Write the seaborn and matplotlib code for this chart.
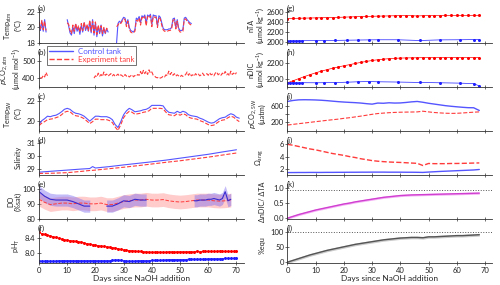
import numpy as np
import pandas as pd
import matplotlib
matplotlib.use('Agg')
import matplotlib.pyplot as plt
from matplotlib.lines import Line2D
import seaborn as sns

# ---- data ----
# (a) air temperature, three logging segments
a_days_1 = np.arange(0, 3, 0.5)
a_days_2 = np.arange(10, 25, 0.5)
a_days_3 = np.arange(27.5, 54.5, 0.5)
a_ctrl_1 = [20.9, 19.6, 20.8, 19.5, 21.0, 19.4]
a_exp_1 = [20.7, 19.8, 20.9, 19.7, 20.8, 19.6]
a_ctrl_2 = [21.0, 20.2, 19.3, 19.0, 20.1, 19.2, 20.4, 19.5, 20.0, 19.1,
            20.3, 19.4, 20.6, 19.6, 20.2, 19.5, 20.8, 19.3, 21.0, 19.0,
            20.6, 18.8, 20.1, 19.2, 20.3, 18.9, 19.9, 19.2, 19.8, 19.4]
a_exp_2 = [20.6, 20.4, 19.6, 19.2, 20.3, 19.5, 20.5, 19.7, 20.2, 19.4,
           20.5, 19.6, 20.7, 19.8, 20.4, 19.6, 20.9, 19.5, 20.8, 19.3,
           20.7, 19.1, 20.3, 19.4, 20.2, 19.2, 20.0, 19.3, 19.9, 19.5]
a_ctrl_3 = [18.0, 20.5, 20.8, 20.6, 21.0, 21.3, 21.2, 20.4, 21.0, 20.0,
            19.6, 19.5, 19.4, 19.7, 21.2, 21.0, 21.4, 20.6, 21.5, 21.3,
            21.6, 20.5, 21.6, 21.4, 21.7, 20.4, 21.6, 21.5, 21.5, 20.2,
            21.5, 21.3, 20.6, 19.9, 19.7, 19.7, 19.7, 19.8, 19.8, 20.0,
            21.1, 21.2, 20.0, 21.0, 19.9, 19.6, 19.6, 19.7, 21.2, 21.3,
            21.0, 20.8, 20.6, 20.5]
a_exp_3 = [20.1, 20.3, 20.6, 20.5, 20.8, 21.1, 21.0, 20.1, 20.8, 19.8,
           19.4, 19.3, 19.3, 19.5, 20.9, 20.8, 21.2, 20.3, 21.3, 21.1,
           21.4, 20.2, 21.4, 21.2, 21.5, 20.1, 21.4, 21.3, 21.3, 20.0,
           21.3, 21.1, 20.3, 19.7, 19.5, 19.5, 19.5, 19.6, 19.6, 19.8,
           20.9, 21.0, 19.8, 20.8, 19.7, 19.4, 19.4, 19.5, 21.0, 21.1,
           20.8, 20.6, 20.4, 20.3]

# (b) atmospheric pCO2, experiment tank only
b_days_1 = np.arange(0.5, 3.5, 0.5)
b_days_2 = np.arange(19.5, 70.5, 0.5)
b_exp_1 = [402, 398, 415, 405, 432, 412]
b_exp_2 = [398, 412, 405, 428, 410, 420, 408, 435, 415, 422,
           410, 418, 425, 412, 420, 408, 415, 422, 410, 418,
           412, 405, 420, 410, 415, 405, 412, 418, 406, 414,
           410, 420, 415, 438, 418, 445, 425, 440, 420, 448,
           428, 435, 415, 410, 402, 400, 405, 398, 402, 410,
           405, 418, 412, 440, 420, 432, 415, 425, 410, 418,
           412, 405, 415, 408, 412, 420, 435, 415, 428, 412,
           418, 410, 425, 415, 422, 412, 418, 428, 414, 420,
           425, 415, 430, 418, 422, 412, 428, 435, 418, 425,
           415, 428, 420, 438, 418, 425, 412, 440, 420, 428,
           418, 432]

# (c) seawater temperature
c_days = np.arange(0, 72)
c_ctrl = [19.6, 20.0, 20.2, 20.45, 20.4, 20.5, 20.55, 20.7, 20.9, 21.15,
          21.25, 21.15, 20.9, 20.75, 20.7, 20.6, 20.45, 20.2, 19.95, 20.2,
          20.45, 20.45, 20.4, 20.4, 20.4, 20.3, 20.1, 19.6, 19.3, 19.9,
          20.6, 21.0, 21.25, 21.1, 20.9, 20.95, 21.0, 21.1, 21.15, 21.3,
          21.55, 21.55, 21.55, 21.55, 21.5, 21.1, 20.85, 20.8, 20.75, 20.95,
          20.8, 20.95, 20.85, 20.6, 20.5, 20.45, 20.4, 20.25, 20.15, 20.0,
          19.85, 19.75, 19.8, 20.0, 20.2, 20.3, 20.35, 20.55, 20.7, 20.6,
          20.35, 20.25]
c_exp = [19.5, 19.75, 19.9, 20.1, 20.15, 20.2, 20.3, 20.4, 20.6, 20.85,
         20.95, 20.9, 20.65, 20.5, 20.45, 20.35, 20.2, 19.95, 19.7, 19.9,
         20.15, 20.15, 20.1, 20.1, 20.1, 20.0, 19.8, 19.35, 19.0, 19.6,
         20.3, 20.7, 20.95, 20.85, 20.65, 20.7, 20.75, 20.85, 20.9, 21.0,
         21.25, 21.25, 21.25, 21.25, 21.2, 20.85, 20.6, 20.55, 20.5, 20.7,
         20.55, 20.7, 20.6, 20.35, 20.25, 20.2, 20.15, 20.0, 19.9, 19.75,
         19.6, 19.5, 19.55, 19.75, 19.95, 20.05, 20.1, 20.3, 20.45, 20.35,
         20.1, 19.9]

# (d) salinity
d_days = [0, 5, 10, 15, 18, 19, 20, 25, 30, 35, 40, 45, 50, 55, 60, 65, 70]
d_ctrl = [28.72, 28.8, 28.88, 28.96, 29.0, 29.15, 29.04, 29.15, 29.28, 29.4,
          29.52, 29.65, 29.8, 29.95, 30.1, 30.28, 30.45]
d_exp = [28.62, 28.64, 28.68, 28.78, 28.85, 28.86, 28.88, 28.99, 29.1, 29.22,
         29.35, 29.48, 29.6, 29.74, 29.88, 30.04, 30.2]

# (e) dissolved oxygen with spread
e_days_exp = np.arange(0, 70, 2)
e_exp = [93, 91, 89.5, 90, 90.5, 90.5, 90, 90.5, 90.5, 90,
         90, 90.5, 89.5, 89.5, 90.5, 91.5, 92, 92.5, 92.5, 93,
         92.5, 92.5, 92.8, 92, 91.5, 91.2, 91.5, 92, 92.5, 92.5,
         92.5, 92, 91.8, 92, 92.5]
e_exp_sd = 4.5
e_days_c1 = np.arange(0, 20, 2)
e_ctrl_1 = [98, 95, 93, 92.5, 92.5, 92.5, 91.5, 90, 88.5, 88.5]
e_days_c2 = np.arange(24, 40, 2)
e_ctrl_2 = [88.5, 88.5, 90, 92, 91.5, 93, 92.5, 92.5]
e_days_c3 = np.arange(55, 69, 1)
e_ctrl_3 = [92, 92, 92.5, 92.5, 92.5, 93, 93, 93.5, 93, 92.5, 93.5, 98, 92, 93]
e_ctrl_sd = 4

# (f) pH total scale
f_days = np.arange(0, 71)
f_exp = [8.54, 8.51, 8.49, 8.47, 8.45, 8.43, 8.41, 8.39, 8.37, 8.35,
         8.34, 8.33, 8.32, 8.31, 8.30, 8.29, 8.27, 8.25, 8.24, 8.22,
         8.21, 8.20, 8.19, 8.18, 8.17, 8.16, 8.15, 8.14, 8.12, 8.10,
         8.09, 8.08, 8.07, 8.07, 8.06, 8.05, 8.05, 8.04, 8.04, 8.03,
         8.03, 8.03, 8.03, 8.03, 8.03, 8.03, 8.04, 8.04, 8.03, 8.04,
         8.04, 8.04, 8.04, 8.04, 8.04, 8.04, 8.05, 8.04, 8.05, 8.05,
         8.05, 8.05, 8.05, 8.05, 8.06, 8.05, 8.05, 8.05, 8.05, 8.05, 8.05]
f_ctrl = [7.81, 7.80, 7.80, 7.80, 7.80, 7.80, 7.80, 7.81, 7.81, 7.81,
          7.81, 7.81, 7.81, 7.81, 7.81, 7.81, 7.81, 7.81, 7.81, 7.81,
          7.81, 7.81, 7.81, 7.81, 7.81, 7.81, 7.82, 7.83, 7.83, 7.82,
          7.81, 7.80, 7.80, 7.80, 7.80, 7.81, 7.81, 7.81, 7.81, 7.81,
          7.82, 7.82, 7.82, 7.82, 7.83, 7.83, 7.84, 7.84, 7.84, 7.84,
          7.84, 7.84, 7.84, 7.85, 7.85, 7.85, 7.85, 7.85, 7.85, 7.85,
          7.86, 7.86, 7.86, 7.86, 7.86, 7.86, 7.87, 7.87, 7.87, 7.87, 7.87]

# right column: carbonate chemistry
r_days = np.arange(0, 70, 2)
r_days_ctrl = [0, 1, 2, 3, 4, 5, 10, 13, 17, 21, 25, 29, 32, 39, 47, 54, 61, 66, 68]
g_exp = [2468, 2474, 2477, 2480, 2482, 2485, 2487, 2490, 2492, 2495,
         2499, 2503, 2507, 2510, 2513, 2516, 2519, 2521, 2524, 2527,
         2529, 2530, 2529, 2522, 2528, 2530, 2531, 2531, 2532, 2533,
         2533, 2534, 2534, 2535, 2535]
g_ctrl = [2030, 2031, 2032, 2031, 2033, 2034, 2035, 2037, 2040, 2044,
          2047, 2050, 2052, 2052, 2038, 2050, 2052, 2056, 2054]
h_exp = [1960, 1985, 2010, 2035, 2058, 2080, 2100, 2118, 2135, 2150,
         2165, 2178, 2192, 2205, 2217, 2228, 2237, 2244, 2250, 2254,
         2257, 2259, 2260, 2261, 2262, 2262, 2262, 2263, 2263, 2263,
         2263, 2263, 2263, 2263, 2263]
h_ctrl = [1962, 1960, 1961, 1960, 1960, 1961, 1960, 1961, 1963, 1967,
          1972, 1975, 1972, 1969, 1964, 1960, 1956, 1950, 1922]
i_ctrl = [705, 730, 745, 748, 746, 742, 735, 725, 712, 700,
          690, 682, 675, 665, 650, 638, 665, 660, 672, 665,
          668, 680, 695, 705, 685, 660, 640, 620, 600, 585,
          572, 560, 550, 548, 480]
i_exp = [118, 135, 152, 168, 185, 202, 218, 235, 250, 265,
         285, 300, 320, 340, 362, 385, 404, 415, 425, 432,
         437, 440, 442, 445, 462, 445, 430, 420, 412, 408,
         410, 418, 428, 438, 445]
j_exp = [6.0, 5.85, 5.65, 5.45, 5.25, 5.1, 4.9, 4.7, 4.5, 4.35,
         4.2, 4.0, 3.85, 3.65, 3.5, 3.35, 3.25, 3.18, 3.12, 3.08,
         3.05, 3.0, 2.95, 2.9, 2.55, 2.88, 2.85, 2.85, 2.85, 2.88,
         2.88, 2.9, 2.92, 2.95, 2.97]
j_ctrl = [1.40, 1.40, 1.41, 1.41, 1.42, 1.42, 1.42, 1.43, 1.43, 1.44,
          1.44, 1.45, 1.45, 1.46, 1.46, 1.47, 1.47, 1.47, 1.46, 1.46,
          1.46, 1.45, 1.45, 1.44, 1.42, 1.48, 1.53, 1.58, 1.62, 1.66,
          1.70, 1.74, 1.78, 1.82, 1.90]
k_ratio = [0.0, 0.06, 0.12, 0.17, 0.22, 0.27, 0.31, 0.35, 0.39, 0.43,
           0.47, 0.50, 0.54, 0.57, 0.60, 0.63, 0.66, 0.69, 0.71, 0.73,
           0.75, 0.76, 0.77, 0.775, 0.78, 0.785, 0.79, 0.795, 0.80, 0.805,
           0.81, 0.815, 0.82, 0.825, 0.83]
k_sd = 0.035
k_ref = 0.92
l_equ = [0, 6, 12, 18, 24, 29, 34, 39, 43, 47,
         51, 55, 59, 62, 65, 68, 71, 74, 76, 78,
         80, 81, 82, 82, 81, 84, 84, 85, 86, 87,
         88, 88, 89, 90, 91]
l_sd = 4.5
l_ref = 100

BLUE = '#5555ff'
RED = '#ff3b3b'
BLUE_M = '#1f1fff'
RED_M = '#ff0000'

sns.set_theme(style='ticks')
plt.rcParams['font.family'] = ['Lato', 'DejaVu Sans']
plt.rcParams['mathtext.default'] = 'regular'
plt.rcParams['axes.linewidth'] = 0.6
plt.rcParams['axes.edgecolor'] = '#333333'


def segs(ax, parts, color, ls='-', lw=0.8):
    frames = [pd.DataFrame({'day': d, 'val': v, 'seg': i}) for i, (d, v) in enumerate(parts)]
    df = pd.concat(frames, ignore_index=True)
    sns.lineplot(data=df, x='day', y='val', units='seg', estimator=None, ax=ax,
                 color=color, linestyle=ls, lw=lw)


def line(ax, x, y, color, ls='-', lw=0.8, marker=None, ms=2.2):
    df = pd.DataFrame({'day': x, 'val': y})
    kw = {}
    if marker:
        kw = dict(marker=marker, markersize=ms, markeredgewidth=0)
    sns.lineplot(data=df, x='day', y='val', ax=ax, color=color, linestyle=ls,
                 lw=lw, **kw)


def band(ax, x, y, sd, color, alpha):
    y = np.asarray(y, dtype=float)
    ax.fill_between(x, y - sd, y + sd, color=color, alpha=alpha, lw=0)


fig = plt.figure(figsize=(5, 2.85), dpi=100)
gs = fig.add_gridspec(6, 2, left=0.078, right=0.984, top=0.972, bottom=0.077,
                      hspace=0.26, wspace=0.215)
axL = [fig.add_subplot(gs[i, 0]) for i in range(6)]
axR = [fig.add_subplot(gs[i, 1]) for i in range(6)]

# (a)
ax = axL[0]
segs(ax, [(a_days_1, a_ctrl_1), (a_days_2, a_ctrl_2), (a_days_3, a_ctrl_3)], BLUE)
segs(ax, [(a_days_1, a_exp_1), (a_days_2, a_exp_2), (a_days_3, a_exp_3)], RED, ls='--')
ax.set_ylim(18, 22.5)
ax.set_yticks([18, 20, 22])

# (b)
ax = axL[1]
segs(ax, [(b_days_1, b_exp_1), (b_days_2, b_exp_2)], RED, ls='--')
ax.set_ylim(345, 555)
ax.set_yticks([400, 500])
leg = ax.legend(handles=[Line2D([], [], color=BLUE, lw=1),
                         Line2D([], [], color=RED, lw=1, ls='--')],
                labels=['Control tank', 'Experiment tank'],
                loc='upper left', bbox_to_anchor=(0.04, 1.17), fontsize=5.7,
                frameon=True, fancybox=False, edgecolor='#333333',
                labelcolor=[BLUE, RED], handlelength=3.0, borderpad=0.25,
                labelspacing=0.15, handletextpad=0.6, borderaxespad=0)
leg.get_frame().set_linewidth(0.6)

# (c)
ax = axL[2]
line(ax, c_days, c_ctrl, BLUE)
line(ax, c_days, c_exp, RED, ls='--')
ax.set_ylim(18.95, 22.5)
ax.set_yticks([20, 22])

# (d)
ax = axL[3]
line(ax, d_days, d_ctrl, BLUE)
line(ax, d_days, d_exp, RED, ls='--')
ax.set_ylim(28.5, 31.2)
ax.set_yticks([29, 30, 31])

# (e)
ax = axL[4]
band(ax, e_days_exp, e_exp, e_exp_sd, '#ff8c8c', 0.45)
for dd, vv in [(e_days_c1, e_ctrl_1), (e_days_c2, e_ctrl_2), (e_days_c3, e_ctrl_3)]:
    band(ax, dd, vv, e_ctrl_sd, '#7a6cf0', 0.45)
line(ax, e_days_exp, e_exp, RED, ls='--', lw=0.7)
segs(ax, [(e_days_c1, e_ctrl_1), (e_days_c2, e_ctrl_2), (e_days_c3, e_ctrl_3)], '#3a2ad0', lw=0.8)
ax.set_ylim(80, 103)
ax.set_yticks([80, 90, 100])

# (f)
ax = axL[5]
line(ax, f_days, f_exp, RED_M, lw=0.6, marker='o')
line(ax, f_days, f_ctrl, BLUE_M, lw=0.6, marker='o')
ax.set_ylim(7.75, 8.65)
ax.set_yticks([8.0, 8.4])
ax.set_yticklabels(['8.0', '8.4'])

# (g)
ax = axR[0]
line(ax, r_days, g_exp, RED_M, lw=0.5, marker='o', ms=2.2)
line(ax, r_days_ctrl, g_ctrl, BLUE_M, lw=0.5, marker='o', ms=2.2)
ax.set_ylim(1990, 2680)
ax.set_yticks([2000, 2200, 2400, 2600])

# (h)
ax = axR[1]
line(ax, r_days, h_exp, RED_M, lw=0.5, marker='o', ms=2.2)
line(ax, r_days_ctrl, h_ctrl, BLUE_M, lw=0.5, marker='o', ms=2.2)
ax.set_ylim(1910, 2330)
ax.set_yticks([2000, 2200])

# (i)
ax = axR[2]
line(ax, r_days, i_ctrl, BLUE, lw=1.0)
line(ax, r_days, i_exp, RED, ls='--', lw=0.8)
ax.set_ylim(-30, 840)
ax.set_yticks([200, 400, 600])
ax.set_yticklabels(['200', '', '600'])

# (j)
ax = axR[3]
line(ax, r_days, j_exp, RED, ls='--', lw=1.0)
line(ax, r_days, j_ctrl, BLUE, lw=1.0)
ax.set_ylim(1, 6.7)
ax.set_yticks([2, 4, 6])

# (k)
ax = axR[4]
band(ax, r_days, k_ratio, k_sd, '#f08cf0', 0.7)
line(ax, r_days, k_ratio, '#d040d0', lw=1.0)
ax.axhline(k_ref, color='#555555', ls=':', lw=0.7)
ax.set_ylim(-0.03, 1.13)
ax.set_yticks([0.0, 0.5, 1.0])
ax.set_yticklabels(['0.0', '0.5', '1.0'])

# (l)
ax = axR[5]
band(ax, r_days, l_equ, l_sd, '#bdbdbd', 0.8)
line(ax, r_days, l_equ, '#555555', lw=1.0)
ax.axhline(l_ref, color='#555555', ls=':', lw=0.7)
ax.set_ylim(-3, 113)
ax.set_yticks([0, 50, 100])

ylabels_L = ['Temp$_{atm}$\n(°C)', '$\\it{p}$CO$_{2,atm}$\n(µmol mol$^{-1}$)',
             'Temp$_{SW}$\n(°C)', 'Salinity', 'DO\n(%sat)', 'pH$_T$']
ylabels_R = ['nTA\n(µmol kg$^{-1}$)', 'nDIC\n(µmol kg$^{-1}$)',
             '$\\it{p}$CO$_{2,SW}$\n(µatm)', '$\\Omega_{arag}$',
             'ΔnDIC/ ΔTA', '%equ']
letters = 'abcdefghijkl'

for col, (axes, labs, lx) in enumerate([(axL, ylabels_L, -0.085), (axR, ylabels_R, -0.105)]):
    for i, ax in enumerate(axes):
        ax.set_xlim(0, 72.5)
        ax.set_xticks(range(0, 80, 10))
        ax.tick_params(direction='inout', length=3, width=0.5, labelsize=5.5,
                       pad=1, colors='#333333', labelcolor='#222222')
        sns.despine(ax=ax)
        ax.set_ylabel(labs[i], fontsize=5.2, linespacing=1.0)
        ax.yaxis.set_label_coords(lx, 0.5)
        ax.set_xlabel('')
        if i < 5:
            ax.set_xticklabels([])
        else:
            ax.set_xlabel('Days since NaOH addition', fontsize=6, labelpad=1)
        ax.text(-0.005, 1.0, '(%s)' % letters[col * 6 + i], transform=ax.transAxes,
                fontsize=5.7, ha='left', va='center')

fig.savefig('out.png', dpi=100)
